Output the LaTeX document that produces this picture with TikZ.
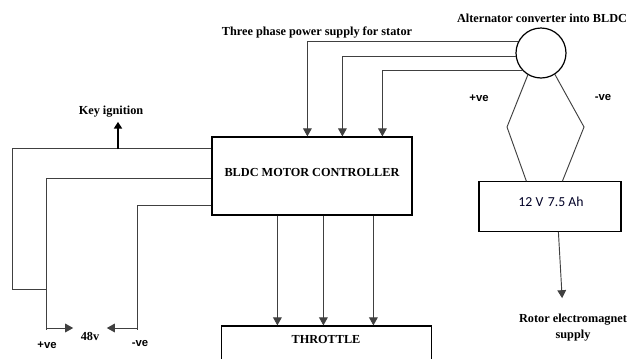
\documentclass[tikz,border=0pt]{standalone}
\usepackage{fontspec}
\setmainfont{Liberation Serif}
\setsansfont{Liberation Sans}
\newfontfamily\calfont{Carlito}
\usetikzlibrary{arrows.meta}
\begin{document}
\begin{tikzpicture}[
  x=0.75pt, y=-0.75pt,
  blk/.style={draw, line width=0.9pt, inner sep=0pt},
  wire/.style={draw=black!75, line width=0.7pt},
  arr/.style={wire, -{Triangle[width=6.5pt,length=6pt]}},
  note/.style={font=\fontsize{9.2}{12}\selectfont\bfseries, inner sep=1pt, align=center},
  pol/.style={font=\fontsize{8.5}{10}\selectfont\sffamily\bfseries, inner sep=1pt}
]
\clip (0,0) rectangle (629,358);
\fill[white] (0,0) rectangle (629,358);
% main blocks
\node[blk, minimum width=150pt, minimum height=58.5pt] (ctrl) at (312,176) {};
\node[note] (ctrltxt) at (312,172) {BLDC MOTOR CONTROLLER};
\node[blk, minimum width=158pt, minimum height=60pt] (thr) at (326.5,366) {};
\node[note] (thrtxt) at (326,339) {THROTTLE};
\node[blk, minimum width=106.5pt, minimum height=37pt] (bat) at (550,206.5) {};
\node[font=\calfont\fontsize{10.3}{12}\selectfont, text=black!85!blue] (battxt) at (551,202) {12 V\,\,7.5 Ah};
\node[draw, line width=0.9pt, circle, minimum size=37.5pt, inner sep=0pt] (alt) at (541,53) {};
% labels
\node[note] (alttxt) at (542,18) {Alternator converter into BLDC};
\node[note] (phase) at (317,33) {Three phase power supply for stator};
\node[note] (key) at (111,112) {Key ignition};
\node[note] (rotor) at (573,328) {Rotor electromagnet\\supply};
\node[note] (v48) at (90,336) {48v};
\node[pol] (apos) at (479,98) {+ve};
\node[pol] (aneg) at (603,98) {-ve};
\node[pol] (bpos) at (47,345) {+ve};
\node[pol] (bneg) at (140,343) {-ve};
\coordinate (pos) at (46,330);
\coordinate (neg) at (137,330);
\coordinate (kp) at (12,289);
\coordinate (kig) at (118,149);

% three phase lines
\draw[arr] (alt.154) -| ([xshift=72pt]ctrl.north west);
\draw[arr] (alt.187) -| ([xshift=98.25pt]ctrl.north west);
\draw[arr] (alt.223) -| ([xshift=128.25pt]ctrl.north west);

% controller to throttle
\foreach \dx in {49.5,84,121.5} {
  \draw[arr] ([xshift=\dx pt]ctrl.south west) -- ([xshift=\dx pt]ctrl.south west |- thr.north);
}

% battery side
\draw[wire] (alt.239) -- (507,127) -- ([xshift=36pt]bat.north west);
\draw[wire] (alt.303) -- (584,127) -- ([xshift=63pt]bat.north west);
\draw[arr, shorten >=11pt] ([xshift=60pt]bat.south west) -- ([xshift=-7.5pt]rotor.north);

% supply wires
\draw[wire] ([yshift=-9pt]ctrl.north west) -| (kp) -- (kp -| pos);
\draw[wire] ([yshift=-31.5pt]ctrl.north west) -| (pos);
\draw[wire] ([yshift=-51.75pt]ctrl.north west) -| (neg);
\draw[line width=2.2pt, -{Triangle[width=6pt,length=5pt]}] (kig) -- ([yshift=-2pt]kig |- key.south);
\draw[arr, shorten >=4.5pt] ([yshift=1.5pt]pos) -- ([yshift=1.5pt]pos -| v48.west);
\draw[arr, shorten >=4.5pt] ([yshift=1.5pt]neg) -- ([yshift=1.5pt]neg -| v48.east);
\end{tikzpicture}
\end{document}
